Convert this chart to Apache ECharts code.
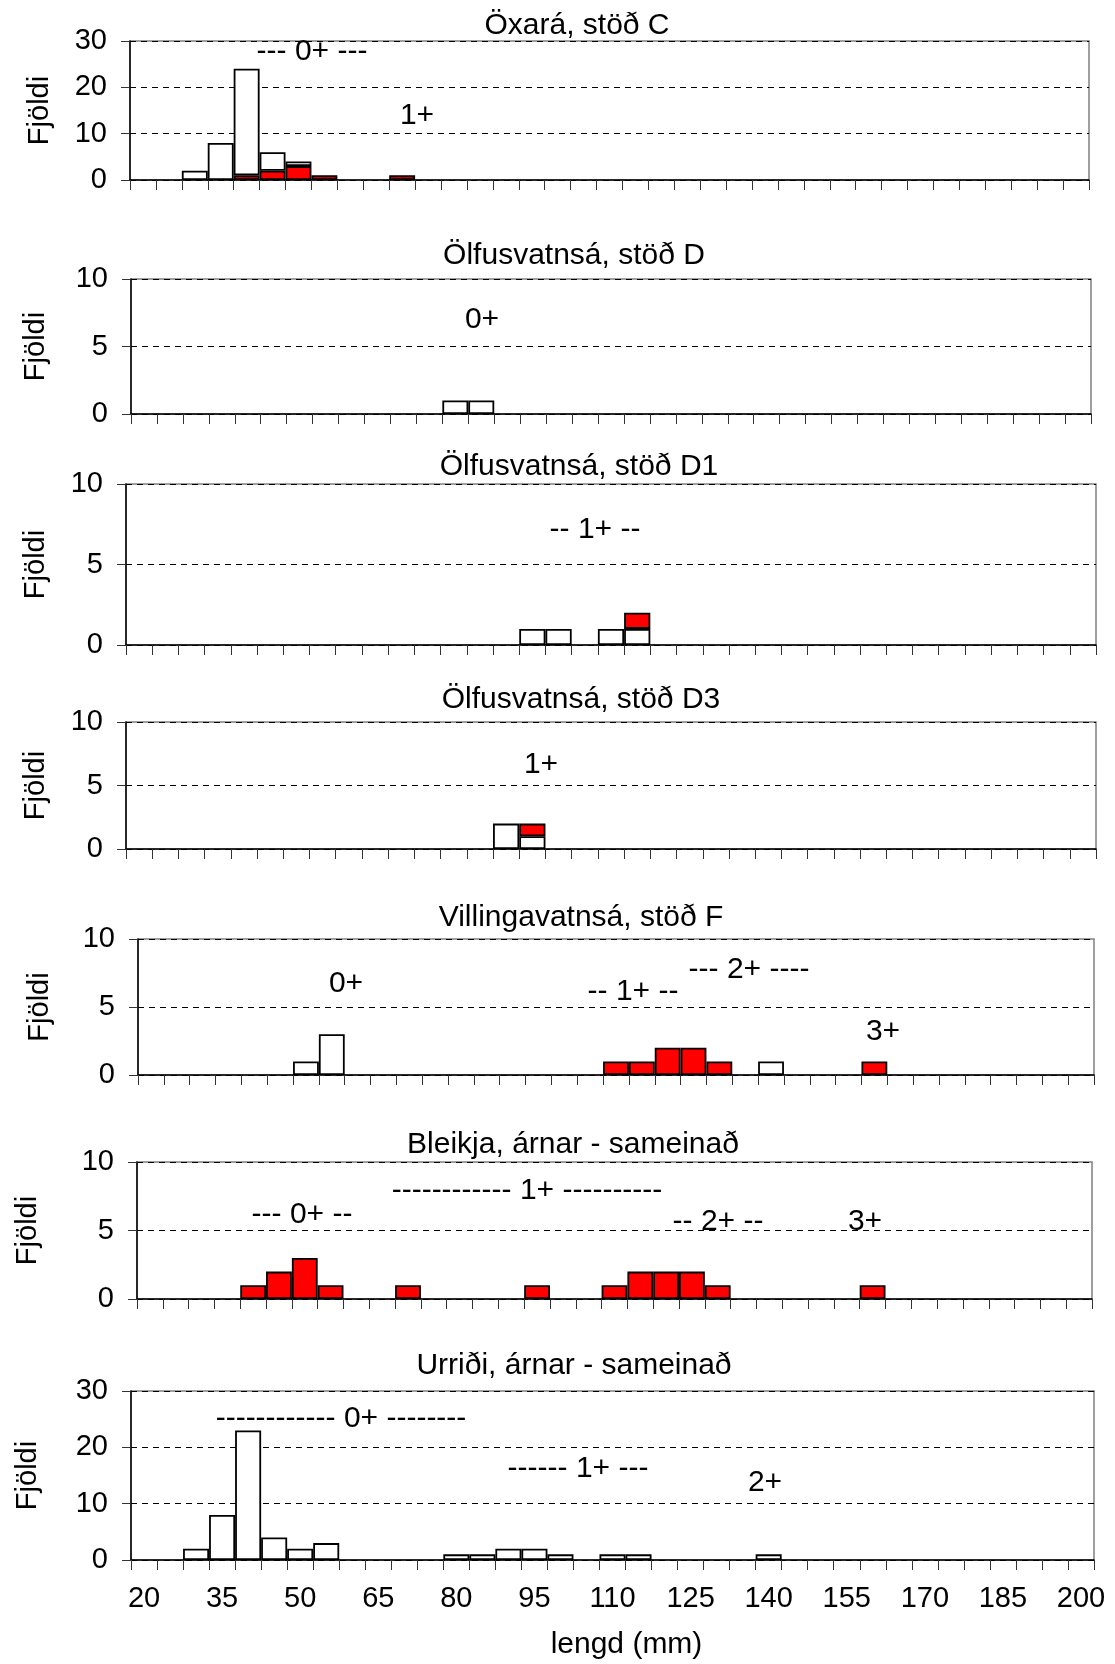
<!DOCTYPE html>
<html><head><meta charset="utf-8">
<script src="https://cdn.jsdelivr.net/npm/echarts@6/dist/echarts.min.js"></script>
<style>html,body{margin:0;padding:0;background:#fff}#c{width:1115px;height:1664px}</style>
</head><body><div id="c"></div>
<script>
// ---- DATA ----
const lengthBins = ['20','25','30','35','40','45','50','55','60','65','70','75','80','85','90','95','100','105','110','115','120','125','130','135','140','145','150','155','160','165','170','175','180','185','190','195','200'];
const xTickLabels = ['20','35','50','65','80','95','110','125','140','155','170','185','200'];
const panelTitles = ['Öxará, stöð C','Ölfusvatnsá, stöð D','Ölfusvatnsá, stöð D1','Ölfusvatnsá, stöð D3','Villingavatnsá, stöð F','Bleikja, árnar - sameinað','Urriði, árnar - sameinað'];
const yMaxes = [30,10,10,10,10,10,30];
const yIntervals = [10,5,5,5,5,5,10];
// counts per length bin: [bin, count]  (white = urriði, red = bleikja)
const oxaraWhite   = [['30',2],['35',8],['40',23],['45',4],['50',1]];
const oxaraRed     = [['40',1],['45',2],['50',3],['55',1],['70',1]];
const olfusDWhite  = [['80',1],['85',1]];
const olfusD1White = [['95',1],['100',1],['110',1],['115',1]];
const olfusD1Red   = [['115',1]];
const olfusD3White = [['90',2],['95',1]];
const olfusD3Red   = [['95',1]];
const villingaWhite = [['50',1],['55',3],['140',1]];
const villingaRed   = [['110',1],['115',1],['120',2],['125',2],['130',1],['160',1]];
const bleikjaAllRed = [['40',1],['45',2],['50',3],['55',1],['70',1],['95',1],['110',1],['115',2],['120',2],['125',2],['130',1],['160',1]];
const urridiAllWhite = [['30',2],['35',8],['40',23],['45',4],['50',2],['55',3],['80',1],['85',1],['90',2],['95',2],['100',1],['110',1],['115',1],['140',1]];
// age-class annotations per panel
const ageLabels = [
  [['--- 0+ ---',312,52],['1+',417,116]],
  [['0+',482,320]],
  [['-- 1+ --',595,530]],
  [['1+',541,765]],
  [['0+',346,984],['-- 1+ --',633,992],['--- 2+ ----',749,970],['3+',883,1032]],
  [['------------ 1+ ----------',527,1191],['--- 0+ --',302,1215],['-- 2+ --',718,1222],['3+',865,1222]],
  [['------------ 0+ --------',341,1419],['------ 1+ ---',578,1469],['2+',765,1483]]
];

// ---- LAYOUT ----
const layout = [
  {l:130,r:1089,t:41,b:180,gap:76,tx:577,ty:26},
  {l:131,r:1091,t:279,b:414,gap:81,tx:574,ty:256},
  {l:126,r:1096,t:484,b:645,gap:76,tx:579,ty:467},
  {l:126,r:1096,t:722,b:849,gap:76,tx:581,ty:700},
  {l:138,r:1094,t:939,b:1075,gap:84,tx:581,ty:918},
  {l:137,r:1092,t:1162,b:1299,gap:95,tx:573,ty:1145},
  {l:131,r:1094,t:1391,b:1560,gap:89,tx:574,ty:1366}
];
const RED = '#ff0000', WHITE = '#ffffff';
const panelSeries = [
  [[oxaraRed,RED],[oxaraWhite,WHITE]],
  [[olfusDWhite,WHITE]],
  [[olfusD1White,WHITE],[olfusD1Red,RED]],
  [[olfusD3White,WHITE],[olfusD3Red,RED]],
  [[villingaWhite,WHITE],[villingaRed,RED]],
  [[bleikjaAllRed,RED]],
  [[urridiAllWhite,WHITE]]
];
const FF = '"Liberation Sans", Arial, sans-serif';
function toArr(pairs){ const a = lengthBins.map(()=>null); pairs.forEach(([b,v])=>{ a[lengthBins.indexOf(b)] = v; }); return a; }

const grid=[], xAxis=[], yAxis=[], series=[], graphic=[];
layout.forEach((p,i)=>{
  const last = i === layout.length-1;
  grid.push({left:p.l, top:p.t, width:p.r-p.l, height:p.b-p.t, show:true, borderColor:'#808080', borderWidth:1.5, backgroundColor:'#fff', containLabel:false});
  xAxis.push({type:'category', gridIndex:i, data:lengthBins, boundaryGap:true,
    axisLine:{show:true, lineStyle:{color:'#000', width:1.5}},
    axisTick:{show:true, interval:0, length:10, lineStyle:{color:'#333', width:1}},
    axisLabel:{show:last, interval:(idx,val)=>xTickLabels.includes(val), margin:24, fontSize:29, color:'#000', fontFamily:FF},
    splitLine:{show:false},
    name: last ? 'lengd (mm)' : '', nameLocation:'middle', nameGap:70,
    nameTextStyle:{fontSize:30, color:'#000', fontFamily:FF, padding:[0,0,0,28]}
  });
  yAxis.push({type:'value', gridIndex:i, min:0, max:yMaxes[i], interval:yIntervals[i],
    axisLine:{show:true, lineStyle:{color:'#000', width:1.5}},
    axisTick:{show:true, length:9, lineStyle:{color:'#333', width:1}},
    axisLabel:{margin:23, fontSize:29, color:'#000', fontFamily:FF},
    splitLine:{show:true, lineStyle:{color:'#000', width:1, type:[6,5]}},
    name:'Fjöldi', nameLocation:'middle', nameGap:p.gap, nameRotate:90,
    nameTextStyle:{fontSize:29, color:'#000', fontFamily:FF}
  });
  panelSeries[i].forEach(([pairs,col])=>{
    series.push({type:'bar', xAxisIndex:i, yAxisIndex:i, stack:'s'+i, data:toArr(pairs),
      barCategoryGap:'0%', silent:true,
      itemStyle:{color:col, borderColor:'#000', borderWidth:1.8}});
  });
  graphic.push({type:'text', x:p.tx, y:p.ty, silent:true,
    style:{text:panelTitles[i], fill:'#000', fontSize:30, fontFamily:FF, textAlign:'center', textVerticalAlign:'middle'}});
  ageLabels[i].forEach(([t,x,y])=>{
    graphic.push({type:'text', x, y, silent:true, z:100,
      style:{text:t, fill:'#000', fontSize:30, fontFamily:FF, textAlign:'center', textVerticalAlign:'middle'}});
  });
});

const chart = echarts.init(document.getElementById('c'), null, {renderer:'canvas'});
chart.setOption({animation:false, backgroundColor:'#fff', grid, xAxis, yAxis, series, graphic});
</script></body></html>
